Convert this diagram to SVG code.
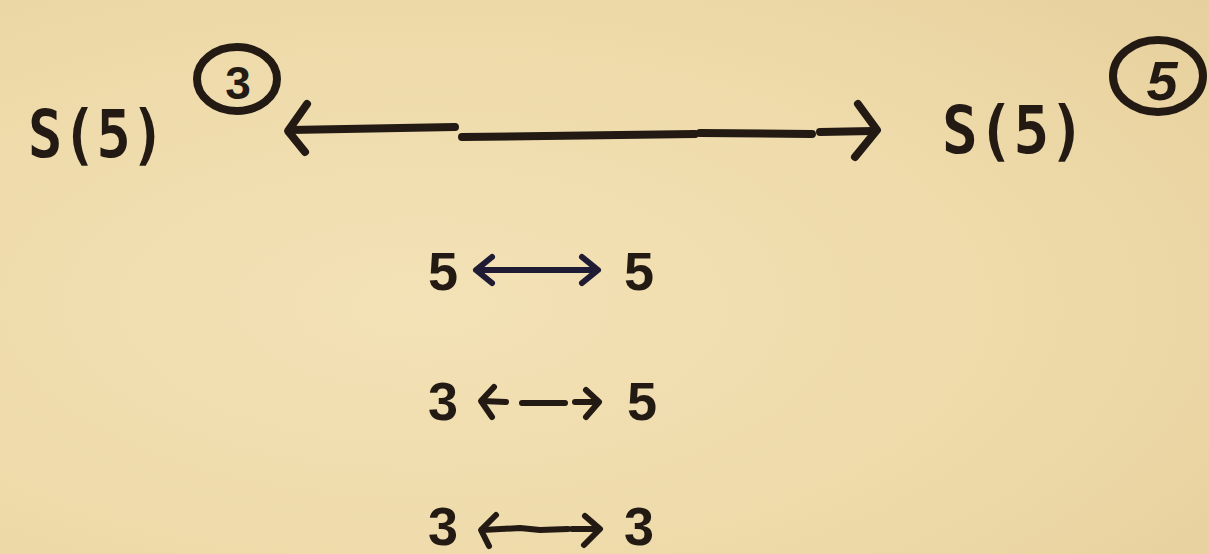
<svg xmlns="http://www.w3.org/2000/svg" width="1209" height="554" viewBox="0 0 1209 554">
<defs>
<radialGradient id="bg" cx="0.35" cy="0.55" r="0.85">
<stop offset="0" stop-color="#f3e2b7"/>
<stop offset="0.6" stop-color="#eedaa9"/>
<stop offset="1" stop-color="#e6d09d"/>
</radialGradient>
<style>
.ink{fill:#231a14}
.big{font-family:"DejaVu Sans Mono","Liberation Mono",monospace;font-weight:bold;font-size:66px}
.num{font-family:"Liberation Sans","DejaVu Sans",sans-serif;font-weight:bold;font-size:54px}
.circ{fill:none;stroke:#231a14;stroke-width:8}
.ln{fill:none;stroke:#231a14;stroke-width:8;stroke-linecap:round;stroke-linejoin:round}
.ln2{fill:none;stroke:#231a14;stroke-width:6;stroke-linecap:round;stroke-linejoin:round}
.navy{fill:none;stroke:#1f1b35;stroke-width:6;stroke-linecap:round;stroke-linejoin:round}
</style>
</defs>
<rect width="1209" height="554" fill="url(#bg)"/>
<g id="node-left">
<text class="ink big" x="28" y="157" textLength="137" lengthAdjust="spacingAndGlyphs">S(5)</text>
<ellipse class="circ" cx="237" cy="79" rx="40" ry="32"/>
<text class="ink" x="238" y="99" text-anchor="middle" font-family="Liberation Sans, sans-serif" font-weight="bold" font-size="46">3</text>
</g>
<g id="node-right">
<text class="ink big" x="942" y="153" textLength="143" lengthAdjust="spacingAndGlyphs">S(5)</text>
<ellipse class="circ" cx="1158" cy="76" rx="45" ry="36"/>
<text class="ink" x="1162" y="100" text-anchor="middle" font-family="Liberation Sans, sans-serif" font-style="italic" font-weight="bold" font-size="56">5</text>
</g>
<g id="connectors">
<polyline class="ln" points="307,104 288,131 305,152"/>
<polyline class="ln" points="290,130 455,127"/>
<polyline class="ln" points="462,137 695,134"/>
<polyline class="ln" points="700,133 812,134"/>
<polyline class="ln" points="820,132 873,131"/>
<polyline class="ln" points="858,104 877,130 855,157"/>
</g>
<g id="row-1">
<text class="ink num" x="428" y="290">5</text>
<line class="navy" x1="478" y1="270" x2="596" y2="270"/>
<polyline class="navy" points="492,257 476,270 492,283"/>
<polyline class="navy" points="582,257 598,270 582,283"/>
<text class="ink num" x="624" y="290">5</text>
</g>
<g id="row-2">
<text class="ink num" x="428" y="420">3</text>
<polyline class="ln2" points="494,387 481,401 492,417"/>
<line class="ln2" x1="482" y1="401" x2="506" y2="402"/>
<line class="ln2" x1="522" y1="403" x2="565" y2="403"/>
<line class="ln2" x1="575" y1="402" x2="597" y2="402"/>
<polyline class="ln2" points="586,390 599,402 586,417"/>
<text class="ink num" x="627" y="420">5</text>
</g>
<g id="row-3">
<text class="ink num" x="428" y="545">3</text>
<polyline class="ln2" points="496,515 481,530 489,546"/>
<polyline class="ln2" points="482,530 520,528 540,530 568,529"/>
<line class="ln2" x1="572" y1="529" x2="598" y2="529"/>
<polyline class="ln2" points="585,516 600,529 584,545"/>
<text class="ink num" x="624" y="545">3</text>
</g>
</svg>
